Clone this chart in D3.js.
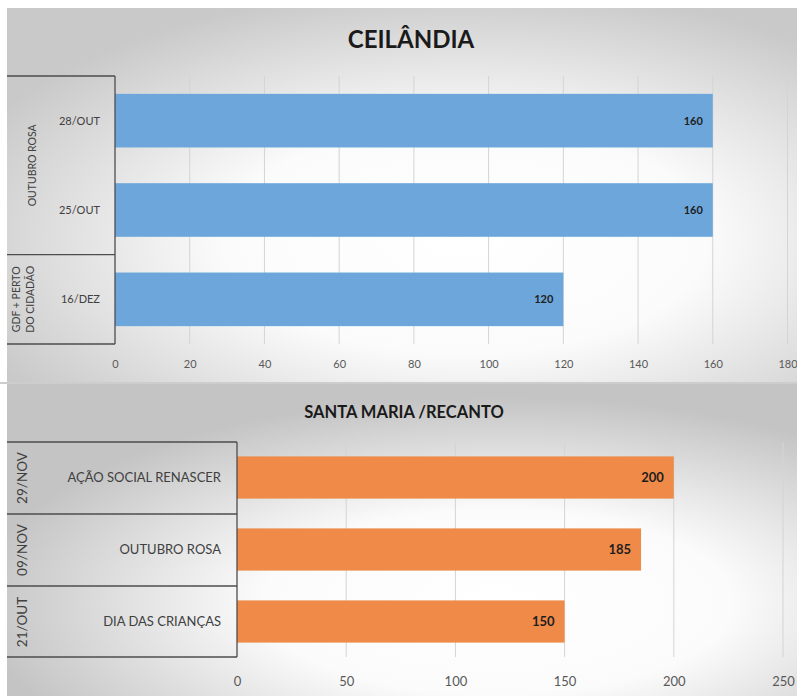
<!DOCTYPE html>
<html>
<head>
<meta charset="utf-8">
<script src="https://cdn.jsdelivr.net/npm/d3@7"></script>
<style>
  html, body { margin: 0; padding: 0; background: #ffffff; }
  svg { display: block; }
  text { font-family: Lato, "Open Sans", sans-serif; }
</style>
</head>
<body>
<svg id="chart" width="797" height="696"></svg>
<script>
// Ceilândia events
const ceilTitle = "CEILÂNDIA";
const ceilCategories = ["28/OUT", "25/OUT", "16/DEZ"];
const ceilValues = [160, 160, 120];
const ceilGroups = [
  { lines: ["OUTUBRO ROSA"], from: 0, to: 1 },
  { lines: ["GDF + PERTO", "DO CIDADÃO"], from: 2, to: 2 }
];
const ceilTicks = [0, 20, 40, 60, 80, 100, 120, 140, 160, 180];

// Santa Maria / Recanto events
const santaTitle = "SANTA MARIA /RECANTO";
const santaCategories = ["AÇÃO SOCIAL RENASCER", "OUTUBRO ROSA", "DIA DAS CRIANÇAS"];
const santaDates = ["29/NOV", "09/NOV", "21/OUT"];
const santaValues = [200, 185, 150];
const santaTicks = [0, 50, 100, 150, 200, 250];

const svg = d3.select("#chart");
const defs = svg.append("defs");

function panelGradient(id, cx, cy, r, edge) {
  const g = defs.append("radialGradient").attr("id", id)
    .attr("cx", cx).attr("cy", cy).attr("r", r);
  g.append("stop").attr("offset", "0%").attr("stop-color", "#ffffff");
  g.append("stop").attr("offset", "45%").attr("stop-color", "#fbfbfb");
  g.append("stop").attr("offset", "100%").attr("stop-color", edge);
}
panelGradient("bgTop", "58%", "62%", "68%", "#c9c9c9");
panelGradient("bgBottom", "62%", "70%", "66%", "#c4c4c4");

function drawPanel(opt) {
  const g = svg.append("g");
  // panel background
  g.append("rect")
    .attr("x", opt.left).attr("y", opt.top)
    .attr("width", 797 - opt.left).attr("height", opt.bottom - opt.top)
    .attr("fill", `url(#${opt.bg})`);

  const x = d3.scaleLinear().domain(opt.domain).range([opt.x0, opt.x1]);
  const y = d3.scaleBand().domain(d3.range(opt.values.length))
    .range([opt.plotTop, opt.plotBottom])
    .paddingInner(opt.padInner).paddingOuter(opt.padOuter);

  // title
  g.append("text")
    .attr("x", opt.titleX).attr("y", opt.titleY)
    .attr("text-anchor", "middle")
    .attr("font-size", opt.titleSize).attr("font-weight", 700)
    .attr("fill", "#1a1a1a")
    .text(opt.title);

  // vertical gridlines
  g.append("g").selectAll("line")
    .data(opt.ticks.filter(t => t > 0))
    .join("line")
    .attr("x1", d => x(d)).attr("x2", d => x(d))
    .attr("y1", opt.plotTop).attr("y2", opt.plotBottom)
    .attr("stroke", "#d4d4d4").attr("stroke-width", 1);

  // bottom axis (labels only)
  const axis = d3.axisBottom(x).tickValues(opt.ticks).tickSize(0).tickPadding(0);
  const ax = g.append("g")
    .attr("transform", `translate(0,${opt.tickY})`)
    .call(axis);
  ax.select(".domain").remove();
  ax.selectAll("text")
    .attr("font-family", "Lato, 'Open Sans', sans-serif")
    .attr("font-size", opt.tickSize).attr("fill", "#595959")
    .attr("dy", "0.32em");

  // bars
  g.append("g").selectAll("rect")
    .data(opt.values)
    .join("rect")
    .attr("x", x(0)).attr("y", (d, i) => y(i))
    .attr("width", d => x(d) - x(0)).attr("height", y.bandwidth())
    .attr("fill", opt.color);

  // value labels
  g.append("g").selectAll("text")
    .data(opt.values)
    .join("text")
    .attr("x", d => x(d) - 10)
    .attr("y", (d, i) => y(i) + y.bandwidth() / 2)
    .attr("dy", "0.35em")
    .attr("text-anchor", "end")
    .attr("font-size", opt.valueSize).attr("font-weight", 700)
    .attr("fill", "#1e1e1e")
    .text(d => d);

  // category box lines
  const boxColor = "#4d4d4d";
  const step = y.step();
  const boundary = i => opt.plotTop + step * i;
  const lines = g.append("g").attr("stroke", boxColor).attr("stroke-width", 1.3);
  lines.append("line").attr("x1", opt.left).attr("x2", x(0))
    .attr("y1", opt.plotTop).attr("y2", opt.plotTop);
  lines.append("line").attr("x1", opt.left).attr("x2", x(0))
    .attr("y1", opt.plotBottom).attr("y2", opt.plotBottom);
  lines.append("line").attr("x1", x(0)).attr("x2", x(0))
    .attr("y1", opt.plotTop).attr("y2", opt.plotBottom);
  opt.dividers.forEach(i => {
    lines.append("line").attr("x1", opt.left).attr("x2", x(0))
      .attr("y1", boundary(i)).attr("y2", boundary(i));
  });

  // inner category labels
  g.append("g").selectAll("text")
    .data(opt.categories)
    .join("text")
    .attr("x", opt.catX)
    .attr("y", (d, i) => y(i) + y.bandwidth() / 2)
    .attr("dy", "0.35em")
    .attr("text-anchor", "end")
    .attr("font-size", opt.catSize).attr("fill", "#404040")
    .text(d => d);

  // outer rotated group labels
  opt.groups.forEach(grp => {
    const cy = (boundary(grp.from) + boundary(grp.to + 1)) / 2;
    const n = grp.lines.length;
    const baseX = n > 1 ? opt.groupX : opt.groupSingleX;
    grp.lines.forEach((ln, k) => {
      const gx = baseX + (k - (n - 1) / 2) * opt.groupLineGap;
      g.append("text")
        .attr("transform", `translate(${gx},${cy}) rotate(-90)`)
        .attr("dy", "0.35em")
        .attr("text-anchor", "middle")
        .attr("font-size", opt.groupSize).attr("fill", "#404040")
        .text(ln);
    });
  });
}

drawPanel({
  bg: "bgTop", left: 7, top: 8, bottom: 382,
  title: ceilTitle, titleX: 411, titleY: 48, titleSize: 24,
  values: ceilValues, categories: ceilCategories,
  groups: ceilGroups, dividers: [2],
  domain: [0, 180], x0: 115, x1: 787.5, ticks: ceilTicks,
  plotTop: 76, plotBottom: 344, padInner: 0.4, padOuter: 0.2,
  tickY: 364, tickSize: 11, valueSize: 11, color: "#6ca6da",
  catX: 100, catSize: 11,
  groupX: 23, groupSingleX: 32, groupLineGap: 14, groupSize: 10.5
});

drawPanel({
  bg: "bgBottom", left: 7, top: 384, bottom: 696,
  title: santaTitle, titleX: 404, titleY: 418, titleSize: 16.5,
  values: santaValues, categories: santaCategories,
  groups: santaDates.map((d, i) => ({ lines: [d], from: i, to: i })),
  dividers: [1, 2],
  domain: [0, 250], x0: 237, x1: 783, ticks: santaTicks,
  plotTop: 442, plotBottom: 657, padInner: 0.414, padOuter: 0.2,
  tickY: 682, tickSize: 13, valueSize: 13, color: "#ef8a48",
  catX: 221, catSize: 13,
  groupX: 22, groupSingleX: 22, groupLineGap: 0, groupSize: 13.5
});

// separator between the two panels
svg.append("line").attr("x1", 0).attr("x2", 797).attr("y1", 383).attr("y2", 383)
  .attr("stroke", "#bdbdbd").attr("stroke-width", 1.5);
</script>
</body>
</html>
